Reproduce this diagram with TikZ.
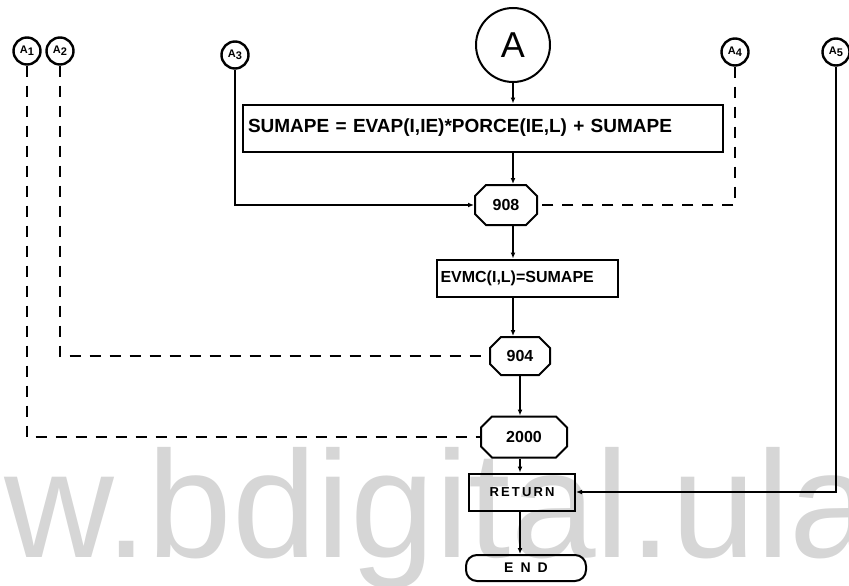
\documentclass[tikz,border=0pt]{standalone}
\usepackage{fontspec}
\setmainfont{Liberation Sans}
\usepackage{xcolor}
\usetikzlibrary{arrows.meta,shapes.misc}

\definecolor{wmgray}{RGB}{214,214,214}

\begin{document}
\begin{tikzpicture}[x=1pt,y=-1pt,
  ln/.style={line width=2pt},
  flow/.style={ln,-{Latex[length=6pt,width=5pt]}},
  dashln/.style={ln,dash pattern=on 11pt off 9pt},
  conn/.style={draw,line width=2.4pt,circle,inner sep=0pt,minimum size=27pt,font=\fontsize{11}{11}\selectfont\bfseries},
  stmt/.style={draw,ln,rectangle,inner sep=0pt,font=\bfseries},
  lbl/.style={draw,ln,chamfered rectangle,chamfered rectangle xsep=5pt,chamfered rectangle ysep=6pt,inner sep=0pt,font=\fontsize{16}{16}\selectfont\bfseries}]
\useasboundingbox (0,0) rectangle (849,586);
\begin{scope}
\clip (0,0) rectangle (849,586);
\node[anchor=base west,inner sep=0pt,text=wmgray,font=\fontsize{152}{152}\selectfont] (wm) at (4,557) {w.bdigital.ula};
\end{scope}
\node[draw,ln,circle,inner sep=0pt,minimum size=74pt,font=\fontsize{36}{36}\selectfont] (A) at (513,45) {A};
\node[conn] (A1) at (27,51) {A\raisebox{-2pt}{1}};
\node[conn] (A2) at (60,51) {A\raisebox{-2pt}{2}};
\node[conn] (A3) at (235,55) {A\raisebox{-2pt}{3}};
\node[conn] (A4) at (735,52) {A\raisebox{-2pt}{4}};
\node[conn] (A5) at (836,52) {A\raisebox{-2pt}{5}};
\node[stmt,minimum height=47pt,inner xsep=5pt,text width=470pt,align=left,font=\fontsize{19}{19}\selectfont\bfseries] (sum) at (483,128) {SUMAPE = EVAP(I,IE)*PORCE(IE,L) + SUMAPE};
\node[lbl,minimum width=62pt,minimum height=40pt] (l908) at (506,205) {908};
\node[stmt,minimum height=37pt,inner xsep=4pt,text width=173pt,align=left,font=\fontsize{16}{16}\selectfont\bfseries] (evmc) at (527,278) {EVMC(I,L)=SUMAPE};
\node[lbl,minimum width=60pt,minimum height=38pt] (l904) at (520,356) {904};
\node[lbl,minimum width=86pt,minimum height=41pt] (l2000) at (524,437) {2000};
\node[stmt,minimum width=106pt,minimum height=37pt,font=\fontsize{13}{13}\selectfont\bfseries] (ret) at (522,492) {R\,E\,T\,U\,R\,N};
\node[stmt,rounded corners=11pt,minimum width=120pt,minimum height=26pt,font=\fontsize{14}{14}\selectfont\bfseries] (fin) at (526,568) {E\enspace N\enspace D};
\draw[flow] (A) -- (A |- sum.north);
\draw[flow] (A |- sum.south) -- (A |- l908.north);
\draw[flow] (A3) |- (l908);
\draw[dashln] (A4) |- (l908);
\draw[flow] (l908.south -| A) -- (A |- evmc.north);
\draw[flow] (A |- evmc.south) -- (A |- l904.north);
\draw[dashln] (A2) |- (l904);
\draw[flow] (l904.south) -- (l904 |- l2000.north);
\draw[dashln] (A1) |- (l2000);
\draw[flow] (l904 |- l2000.south) -- (l904 |- ret.north);
\draw[flow] (A5) |- (ret);
\draw[flow] (l904 |- ret.south) -- (l904 |- fin.north);
\end{tikzpicture}
\end{document}
